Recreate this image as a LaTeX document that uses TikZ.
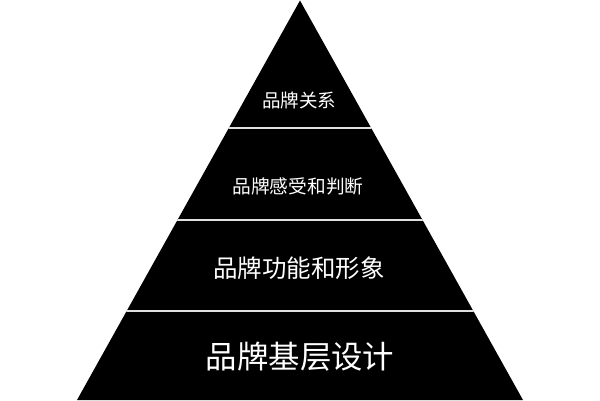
\documentclass[tikz,border=0pt]{standalone}
\usepackage{fontspec}
\newfontfamily\cjk{Noto Sans CJK SC}
\tikzset{
  lvl/.style={text=white, font=\cjk, inner sep=0pt, anchor=center},
  sep/.style={draw=white!88!black, line width=2pt}
}
\begin{document}
\begin{tikzpicture}[x=1pt,y=1pt]
\useasboundingbox (0,0) rectangle (600,400);
\coordinate (apex) at (300,399.5);
\coordinate (bl) at (77,0);
\coordinate (br) at (523,0);
\fill[black] (apex) -- (br) -- (bl) -- cycle;
\begin{scope}
\clip (apex) -- (br) -- (bl) -- cycle;
\draw[sep] (0,272) -- (600,272);
\draw[sep] (0,180.5) -- (600,180.5);
\draw[sep] (0,89.5) -- (600,89.5);
\end{scope}
\node[lvl, font=\cjk\fontsize{18.5}{20}\selectfont] (t1) at (299,300) {品牌关系};
\node[lvl, font=\cjk\fontsize{18.7}{20}\selectfont] (t2) at (298,214) {品牌感受和判断};
\node[lvl, font=\cjk\fontsize{24.5}{26}\selectfont] (t3) at (299,132) {品牌功能和形象};
\node[lvl, font=\cjk\fontsize{31.4}{33}\selectfont] (t4) at (300,43) {品牌基层设计};
\end{tikzpicture}
\end{document}
